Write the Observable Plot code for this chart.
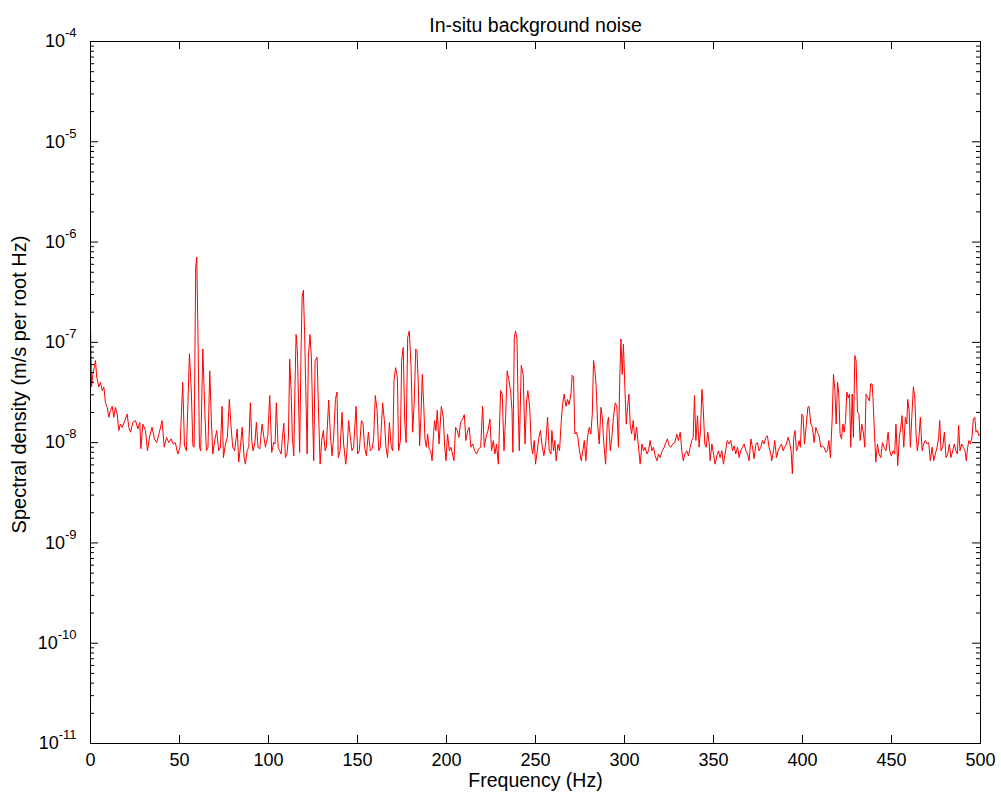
<!DOCTYPE html>
<html>
<head>
<meta charset="utf-8">
<script src="https://cdn.jsdelivr.net/npm/d3@7"></script>
<script src="https://cdn.jsdelivr.net/npm/@observablehq/plot@0.6"></script>
<style>
  html, body { margin: 0; padding: 0; background: #fff; }
</style>
</head>
<body>
<div id="chart"></div>
<script>
// ---- Data ----
const title = "In-situ background noise";
const xLabel = "Frequency (Hz)";
const yLabel = "Spectral density (m/s per root Hz)";

const xTicks = [0, 50, 100, 150, 200, 250, 300, 350, 400, 450, 500];
const yMajor = [1e-4, 1e-5, 1e-6, 1e-7, 1e-8, 1e-9, 1e-10, 1e-11];
const yTickLabels = ["10^-4", "10^-5", "10^-6", "10^-7", "10^-8", "10^-9", "10^-10", "10^-11"];
const yMinorMultipliers = [2, 3, 4, 5, 6, 7, 8, 9];

// Frequency (Hz)
const freq = [
  0, 0.6, 1.3, 2.1, 2.8, 3.5, 4.7, 5.6, 6.6, 7.5, 8.4, 9.4, 10.3, 11.2, 12.2, 13.1, 14.0, 15.0, 15.9, 16.8,
  17.8, 19.3, 20.6, 21.5, 22.5, 23.8, 25.3, 26.6, 27.7, 28.3, 29.4, 30.9, 32.0, 33.3, 34.6, 35.9, 37.2, 38.7, 40.2, 41.4,
  42.7, 44.0, 45.3, 46.4, 47.7, 49.0, 50.3, 51.8, 52.8, 53.9, 55.6, 56.7, 57.5, 58.2, 59.1, 59.7, 60.5, 61.2, 61.9, 63.1,
  64.2, 65.1, 66.0, 67.0, 67.9, 68.7, 69.8, 70.9, 72.0, 73.0, 73.9, 74.7, 75.8, 76.9, 78.0, 79.0, 79.9, 81.0, 82.4, 83.3,
  84.2, 85.2, 86.3,
  87.0, 88.0, 88.9, 89.8, 90.6, 91.3, 92.3, 93.2, 94.1, 95.1, 96.4, 97.3, 98.3, 99.6, 100.7, 101.8, 102.9, 103.7, 104.4, 105.4,
  106.3, 107.1, 107.8, 108.6, 109.5, 110.4, 111.2, 111.9, 112.7, 113.4, 114.2, 114.9, 115.5, 116.2, 117.0, 117.5, 118.3, 118.9, 119.6, 120.3,
  121.1, 121.7, 122.4, 123.3, 124.1, 124.8, 125.4, 126.2, 127.3, 128.2, 129.0, 129.9, 130.8, 131.8, 132.5, 133.8, 134.8, 135.7, 136.6, 137.6,
  138.5, 139.2, 140.2, 141.3, 142.2, 143.4, 144.1, 145.0, 146.0, 146.9, 147.8, 149.2, 150.1, 151.0, 152.2, 153.1, 154.0, 155.0, 156.1, 157.2,
  158.3, 159.1, 160.0, 161.0, 161.9, 162.8, 164.1, 165.1, 166.0, 166.9, 167.9, 169.0, 169.8, 170.5, 171.4, 172.4,
  173.1, 174.1, 174.8, 175.7, 176.5, 177.3, 178.2, 179.1, 180.1, 181.0, 181.9, 182.7, 183.4, 184.2, 184.9, 185.7, 186.4, 187.2, 187.9, 188.7,
  189.4, 190.2, 191.1, 191.9, 192.6, 193.3, 194.1, 194.8, 195.8, 197.1, 198.2, 198.9, 199.7, 200.6, 201.6, 202.5, 203.4, 204.2, 205.1, 206.1,
  207.0, 207.9, 209.1, 210.0, 210.9, 211.9, 212.8, 213.7, 214.7, 215.8, 216.9, 218.0, 219.2, 220.3, 221.2, 222.2, 223.3, 224.4, 225.3, 226.3,
  227.2, 228.1, 229.1, 230.4, 231.3, 232.3, 233.2, 234.1, 235.1, 236.0, 236.8, 237.3, 238.1, 238.8, 239.6, 240.3, 240.9, 242.0, 243.1, 244.1,
  245.0, 245.7, 246.7, 247.6, 248.4, 249.3, 250.0, 251.0, 251.9, 252.8, 253.8, 254.7, 255.7, 256.8, 257.7, 258.7,
  259.2, 260.1, 260.9, 261.6, 262.6, 263.5, 264.5, 265.2, 266.1, 267.1, 268.0, 268.9, 269.9, 270.6, 271.4, 272.1, 272.9, 273.8, 274.7, 275.7,
  276.6, 277.4, 278.3, 279.2, 280.2, 281.1, 281.9, 282.6, 283.4, 284.1, 284.9, 285.8, 286.8, 287.5, 288.4, 289.4, 290.3, 291.0, 292.0, 292.9,
  293.8, 294.8, 295.7, 296.6, 297.4, 298.0, 298.7, 299.4, 300.2, 301.0, 301.7, 302.5, 303.2, 304.0, 304.9, 305.8, 306.8, 307.7, 308.8, 309.8,
  310.7, 311.6, 312.6, 313.5, 314.4, 315.4, 316.3, 317.2, 318.2, 319.1, 320.0, 321.2, 322.3, 323.2, 324.1, 325.1, 326.0, 327.1, 328.3, 329.4,
  330.3, 331.3, 332.2, 333.0, 333.9, 335.0, 335.9, 336.9, 337.8, 338.6, 339.3, 340.1, 341.0, 341.9, 342.7, 343.5, 344.2, 345.1,
  345.9, 346.8, 347.6, 348.1, 349.1, 350.0, 350.9, 351.9, 352.8, 353.7, 354.7, 355.6, 356.5, 357.7, 358.8, 359.7, 360.7, 361.6, 362.5, 363.5,
  364.4, 365.3, 366.3, 367.2, 368.2, 369.1, 370.0, 371.0, 371.9, 372.8, 373.8, 374.7, 375.6, 376.6, 377.5, 378.4, 379.4, 380.3, 381.2, 382.2,
  382.7, 383.7, 384.4, 385.4, 386.3, 387.2, 388.2, 389.1, 390.0, 391.0, 391.9, 392.8, 393.6, 394.3, 395.1, 395.8, 396.6, 397.3, 398.1, 398.8,
  399.6, 400.3, 401.1, 402.0, 403.0, 403.7, 404.7, 405.6, 406.5, 407.5, 408.4, 409.3, 410.3, 411.2, 412.1, 413.1, 414.0, 414.8, 415.7, 416.7,
  417.4, 418.2, 418.9, 419.7, 420.4, 421.1, 421.9, 422.7, 423.4, 424.2, 424.9, 425.7, 426.4, 427.1, 427.9, 428.6, 429.4, 430.1, 430.9, 431.7,
  432.4, 433.3, 434.3, 435.0,
  435.7, 436.8, 437.6, 438.3, 439.1, 439.6, 440.4, 441.2, 442.1, 443.0, 444.0, 444.9, 445.8, 446.9, 448.1, 449.0, 449.9, 450.9, 451.8, 452.5,
  453.5, 454.4, 455.2, 455.9, 456.9, 457.8, 458.6, 459.1, 459.9, 460.6, 461.4, 462.3, 463.1, 463.8, 464.5, 465.3, 466.2, 467.2, 468.1, 469.0,
  470.0, 470.9, 471.8, 472.8, 473.7, 474.6, 475.6, 476.5, 477.1, 477.8, 478.8, 479.7, 480.6, 481.6, 482.5, 483.4, 484.4, 485.3, 486.2, 487.0,
  487.7, 488.5, 489.4, 490.3, 491.3, 492.0, 492.8, 493.5, 494.3, 495.2, 496.0, 496.8, 497.5, 498.3, 499.0, 500.0
];

// Spectral density (m/s per root Hz)
const density = [
  1.4e-7, 3.6e-8, 4.8e-8, 5.6e-8, 6.6e-8, 4.5e-8, 3.6e-8, 4.0e-8, 3.3e-8, 3.6e-8, 2.5e-8, 2.25e-8, 1.79e-8, 2.1e-8, 2.3e-8, 1.79e-8, 2.25e-8, 1.93e-8, 1.32e-8, 1.53e-8,
  1.42e-8, 1.66e-8, 1.93e-8, 1.42e-8, 1.27e-8, 1.59e-8, 1.66e-8, 1.37e-8, 1.59e-8, 8.7e-9, 1.53e-8, 1.32e-8, 8.3e-9, 1.17e-8, 1.42e-8, 1.09e-8, 1.0e-8, 1.27e-8, 1.66e-8, 9.0e-9,
  1.13e-8, 1.0e-8, 1.09e-8, 9.7e-9, 1.0e-8, 7.7e-9, 9.0e-9, 4.0e-8, 9.3e-9, 8.3e-9, 7.7e-8, 3.05e-8, 9.3e-9, 9.0e-9, 5.6e-7, 7.1e-7, 8.3e-8, 9.0e-9, 8.3e-9, 8.6e-8,
  2.1e-8, 8.3e-9, 9.0e-9, 5.2e-8, 1.66e-8, 7.7e-9, 1.05e-8, 1.32e-8, 8.3e-9, 9.0e-9, 2.3e-8, 7.1e-9, 9.7e-9, 1.13e-8, 2.7e-8, 1.42e-8, 9.0e-9, 8.3e-9, 1.37e-8, 6.4e-9,
  9.0e-9, 1.42e-8, 7.1e-9,
  6.1e-9, 8.3e-9, 9.0e-9, 2.5e-8, 1.05e-8, 8.3e-9, 9.7e-9, 1.59e-8, 9.0e-9, 8.65e-9, 1.53e-8, 1.17e-8, 9.0e-9, 1.17e-8, 2.95e-8, 8.0e-9, 1.0e-8, 9.7e-9, 2.5e-8, 9.0e-9,
  8.3e-9, 7.7e-9, 1.13e-8, 1.56e-8, 7.1e-9, 7.7e-9, 1.13e-8, 6.8e-8, 3.3e-8, 1.13e-8, 7.4e-9, 3.85e-8, 1.2e-7, 8.3e-8, 2.1e-8, 8.0e-9, 8.3e-8, 2.8e-7, 3.3e-7, 1.2e-7,
  2.6e-8, 7.7e-9, 7.1e-8, 1.2e-7, 7.1e-8, 1.79e-8, 6.6e-9, 6.6e-8, 7.1e-8, 1.79e-8, 6.1e-9, 1.05e-8, 1.32e-8, 8.3e-9, 9.0e-9, 2.66e-8, 1.17e-8, 7.4e-9, 1.13e-8, 2.7e-8,
  3.2e-8, 7.1e-9, 8.3e-9, 2.0e-8, 9.7e-9, 6.1e-9, 8.3e-9, 1.66e-8, 1.13e-8, 8.3e-9, 9.0e-9, 2.3e-8, 7.7e-9, 8.3e-9, 1.66e-8, 1.53e-8, 9.0e-9, 7.4e-9, 1.27e-8, 8.3e-9,
  8.65e-9, 1.13e-8, 2.95e-8, 2.1e-8, 8.3e-9, 9.0e-9, 2.5e-8, 1.66e-8, 9.0e-9, 7.1e-9, 1.59e-8, 9.0e-9, 8.3e-9, 4.15e-8, 5.6e-8, 4.5e-8,
  8.3e-9, 1.05e-8, 6.6e-8, 8.9e-8, 1.66e-8, 1.0e-8, 1.12e-7, 1.3e-7, 5.6e-8, 1.27e-8, 2.6e-8, 8.6e-8, 8.3e-8, 3.6e-8, 9.3e-9, 1.93e-8, 4.8e-8, 2.4e-8, 1.09e-8, 9.0e-9,
  1.22e-8, 8.65e-9, 8.3e-9, 6.6e-9, 1.13e-8, 1.66e-8, 1.32e-8, 2.1e-8, 9.7e-9, 2.3e-8, 1.79e-8, 9.7e-9, 6.6e-9, 1.22e-8, 8.3e-9, 9.0e-9, 7.7e-9, 6.6e-9, 1.42e-8, 1.32e-8,
  1.13e-8, 1.59e-8, 1.72e-8, 1.9e-8, 1.05e-8, 1.32e-8, 1.42e-8, 9.0e-9, 9.7e-9, 8.3e-9, 7.7e-9, 8.65e-9, 9.0e-9, 2.3e-8, 9.0e-9, 1.13e-8, 1.32e-8, 1.72e-8, 8.3e-9, 1.05e-8,
  7.7e-9, 9.7e-9, 6.1e-9, 3.3e-8, 3.05e-8, 8.3e-9, 1.79e-8, 5.2e-8, 4.15e-8, 3.3e-8, 2.1e-8, 8.0e-9, 1.12e-7, 1.3e-7, 1.08e-7, 2.1e-8, 8.3e-9, 5.9e-8, 4.8e-8, 9.7e-9,
  2.6e-8, 3.3e-8, 2.3e-8, 9.7e-9, 7.7e-9, 1.05e-8, 6.1e-9, 8.3e-9, 1.13e-8, 1.32e-8, 9.0e-9, 7.4e-9, 9.7e-9, 1.79e-8, 8.3e-9, 7.7e-9,
  1.32e-8, 8.3e-9, 1.05e-8, 6.6e-9, 9.7e-9, 8.3e-9, 1.66e-8, 2.4e-8, 3.05e-8, 2.3e-8, 2.7e-8, 2.4e-8, 3.05e-8, 4.7e-8, 4.5e-8, 1.22e-8, 1.27e-8, 1.13e-8, 8.3e-9, 6.6e-9,
  8.3e-9, 1.05e-8, 6.6e-9, 1.13e-8, 1.42e-8, 1.22e-8, 1.93e-8, 6.6e-8, 5.2e-8, 3.6e-8, 1.53e-8, 9.7e-9, 2.25e-8, 1.79e-8, 9.7e-9, 6.1e-9, 1.53e-8, 1.79e-8, 8.3e-9, 1.13e-8,
  1.79e-8, 2.5e-8, 2.3e-8, 9.0e-9, 4.8e-8, 1.08e-7, 4.8e-8, 9.6e-8, 3.6e-8, 1.53e-8, 2.25e-8, 3.05e-8, 1.53e-8, 1.22e-8, 1.66e-8, 1.05e-8, 1.42e-8, 9.7e-9, 6.1e-9, 9.7e-9,
  8.3e-9, 9.0e-9, 7.7e-9, 8.3e-9, 1.05e-8, 8.3e-9, 9.0e-9, 7.4e-9, 6.6e-9, 7.7e-9, 7.1e-9, 8.3e-9, 9.0e-9, 1.0e-8, 1.09e-8, 9.3e-9, 9.0e-9, 9.7e-9, 1.0e-8, 1.22e-8,
  1.05e-8, 1.27e-8, 8.3e-9, 6.6e-9, 7.7e-9, 8.3e-9, 7.4e-9, 9.0e-9, 1.05e-8, 1.13e-8, 2.95e-8, 1.05e-8, 1.86e-8, 9.0e-9, 1.32e-8, 3.4e-8, 2.25e-8, 9.7e-9,
  9.0e-9, 1.27e-8, 9.7e-9, 6.6e-9, 9.7e-9, 7.7e-9, 6.1e-9, 7.4e-9, 8.3e-9, 7.1e-9, 8.3e-9, 6.1e-9, 7.7e-9, 1.05e-8, 9.7e-9, 1.05e-8, 8.3e-9, 9.3e-9, 7.7e-9, 9.0e-9,
  7.1e-9, 8.3e-9, 9.0e-9, 9.7e-9, 8.3e-9, 7.7e-9, 6.6e-9, 1.09e-8, 9.0e-9, 6.9e-9, 9.7e-9, 1.0e-8, 8.3e-9, 9.0e-9, 1.05e-8, 9.7e-9, 1.13e-8, 1.17e-8, 9.0e-9, 7.7e-9,
  6.6e-9, 8.3e-9, 1.05e-8, 7.1e-9, 8.3e-9, 9.0e-9, 9.7e-9, 8.3e-9, 9.0e-9, 9.7e-9, 1.13e-8, 1.0e-8, 8.3e-9, 4.9e-9, 1.13e-8, 1.32e-8, 8.3e-9, 9.0e-9, 1.05e-8, 9.0e-9,
  1.93e-8, 1.86e-8, 9.7e-9, 1.42e-8, 2.25e-8, 2.3e-8, 1.53e-8, 1.42e-8, 1.0e-8, 1.42e-8, 1.27e-8, 1.17e-8, 9.0e-9, 9.3e-9, 9.0e-9, 8.0e-9, 8.3e-9, 1.05e-8, 7.1e-9, 1.79e-8,
  4.8e-8, 3.3e-8, 1.53e-8, 4.0e-8, 3.05e-8, 1.22e-8, 1.09e-8, 1.53e-8, 1.27e-8, 1.66e-8, 3.2e-8, 2.8e-8, 3.05e-8, 9.0e-9, 3.05e-8, 1.13e-8, 7.4e-8, 6.6e-8, 2.0e-8, 1.93e-8,
  1.05e-8, 1.53e-8, 1.22e-8, 9.0e-9,
  3.05e-8, 2.8e-8, 2.6e-8, 3.85e-8, 3.85e-8, 2.8e-8, 1.27e-8, 6.4e-9, 9.7e-9, 7.7e-9, 7.1e-9, 1.0e-8, 9.0e-9, 8.3e-9, 1.27e-8, 8.3e-9, 7.4e-9, 8.3e-9, 7.7e-9, 1.53e-8,
  5.9e-9, 1.13e-8, 1.42e-8, 1.86e-8, 9.0e-9, 1.79e-8, 1.53e-8, 2.7e-8, 2.1e-8, 9.0e-9, 1.79e-8, 3.6e-8, 2.8e-8, 1.22e-8, 8.3e-9, 1.05e-8, 1.79e-8, 8.3e-9, 9.7e-9, 1.05e-8,
  9.7e-9, 1.0e-8, 6.6e-9, 9.0e-9, 6.6e-9, 7.7e-9, 9.0e-9, 1.13e-8, 1.66e-8, 8.3e-9, 9.0e-9, 1.27e-8, 7.1e-9, 7.7e-9, 9.7e-9, 7.1e-9, 8.3e-9, 9.7e-9, 8.3e-9, 7.7e-9,
  1.48e-8, 8.3e-9, 9.7e-9, 9.0e-9, 8.3e-9, 6.6e-9, 9.0e-9, 1.05e-8, 9.7e-9, 1.13e-8, 1.72e-8, 1.79e-8, 1.27e-8, 1.32e-8, 1.17e-8, 1.22e-8
];

// ---- Build table from the arrays ----
const rows = freq.map((f, i) => ({f, v: density[i]}));
const yMinor = yMajor.slice(0, -1).flatMap(p => yMinorMultipliers.map(m => m * p / 10));
const labelMap = new Map(yMajor.map((v, i) => [v, yTickLabels[i]]));

const W = 1001, H = 799;
const mL = 90, mR = 21, mT = 41, mB = 56;
const plotW = W - mL - mR, plotH = H - mT - mB;
const major = 8, minor = 4;
const font = "'Liberation Sans', Arial, Helvetica, sans-serif";

const chart = Plot.plot({
  width: W,
  height: H,
  marginLeft: mL,
  marginRight: mR,
  marginTop: mT,
  marginBottom: mB,
  style: {fontFamily: font, fontSize: "18px", color: "black", background: "white", overflow: "visible"},
  x: {domain: [0, 500]},
  y: {type: "log", domain: [1e-11, 1e-4]},
  marks: [
    // data line
    Plot.line(rows, {x: "f", y: "v", stroke: "#ff0000", strokeWidth: 1}),
    // inward ticks: x bottom and top
    Plot.tickX(xTicks, {x: d => d, insetTop: plotH - major, stroke: "black"}),
    Plot.tickX(xTicks, {x: d => d, insetBottom: plotH - major, stroke: "black"}),
    // inward ticks: y left and right, majors and minors
    Plot.tickY(yMajor, {y: d => d, insetRight: plotW - major, stroke: "black"}),
    Plot.tickY(yMajor, {y: d => d, insetLeft: plotW - major, stroke: "black"}),
    Plot.tickY(yMinor, {y: d => d, insetRight: plotW - minor, stroke: "black"}),
    Plot.tickY(yMinor, {y: d => d, insetLeft: plotW - minor, stroke: "black"}),
    // axis labels
    Plot.axisX({ticks: xTicks, tickSize: 0, tickPadding: 10, label: null, fontSize: 18, tickFormat: d => String(d)}),
    Plot.axisY({ticks: yMajor, tickSize: 0, tickPadding: 14, label: null, fontSize: 18, tickFormat: d => labelMap.get(d)}),
    // frame
    Plot.frame({stroke: "black", strokeWidth: 1}),
    // title and axis titles
    Plot.text([title], {frameAnchor: "top", dy: -23, text: d => d, fontSize: 19.5, fill: "black"}),
    Plot.text([xLabel], {frameAnchor: "bottom", dy: 43, text: d => d, fontSize: 19.5, fill: "black"}),
    Plot.text([yLabel], {frameAnchor: "left", textAnchor: "middle", dx: -71, dy: -8, rotate: -90, text: d => d, fontSize: 20, fill: "black"})
  ]
});

// superscript exponents on the y tick labels
d3.select(chart).selectAll('g[aria-label="y-axis tick label"] text').each(function () {
  const t = d3.select(this);
  const s = t.text();
  if (!s.includes("^")) return;
  const [base, exp] = s.split("^");
  t.text(null);
  t.append("tspan").text(base);
  t.append("tspan").attr("dy", "-10").attr("font-size", "13px").text(exp);
});

document.getElementById("chart").appendChild(chart);
</script>
</body>
</html>
